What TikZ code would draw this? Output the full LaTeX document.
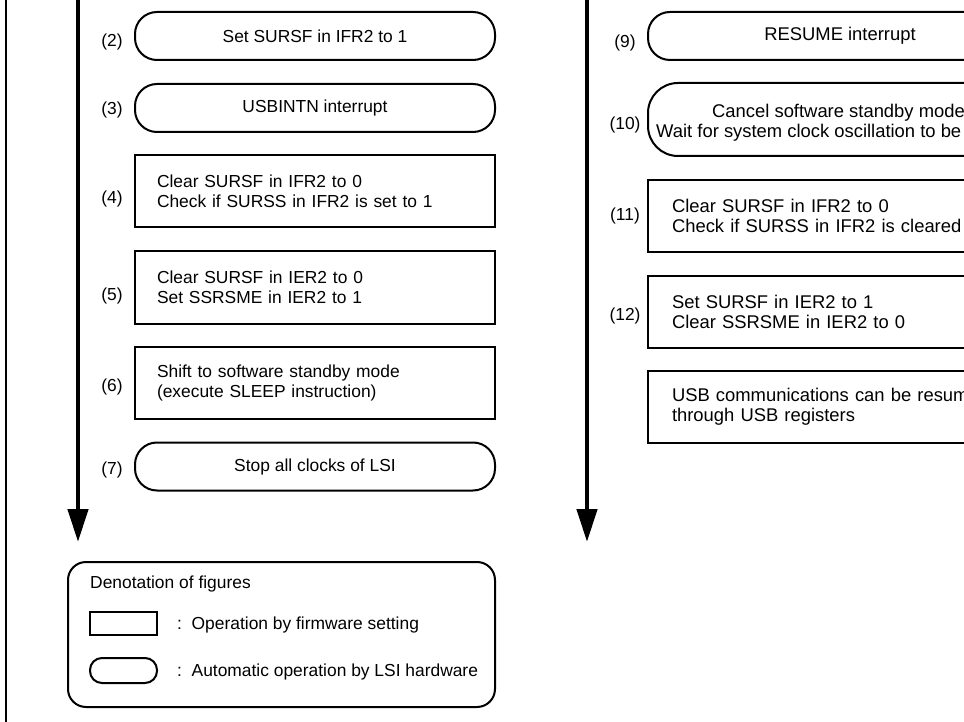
\documentclass[tikz,border=0pt]{standalone}
\usepackage{fontspec}
\setmainfont{Liberation Sans}
\usetikzlibrary{arrows.meta}
\begin{document}
\begin{tikzpicture}[x=1pt,y=-1pt,
  every node/.style={font=\fontsize{17.4}{20}\selectfont, text=black},
  rfont/.style={font=\fontsize{18.4}{20}\selectfont},
  fw/.style={draw, line width=2pt, minimum height=72pt, align=left, inner ysep=0pt},
  fwL/.style={fw, text width=316pt, inner xsep=22pt},
  fwR/.style={fw, rfont, text width=336pt, inner xsep=24pt},
  hw/.style={draw, line width=2pt, rounded corners=22pt, minimum height=48pt, inner sep=0pt},
  hwL/.style={hw, minimum width=360pt},
  hwR/.style={hw, rfont, minimum width=384pt},
  lbl/.style={inner sep=0pt},
  txt/.style={inner sep=0pt, anchor=base west},
  flow/.style={line width=4.5pt, -{Triangle[width=20pt,length=33pt]}},
  frame/.style={line width=2.3pt},
]
\useasboundingbox (0,0) rectangle (964,722);
\clip (0,0) rectangle (964,722);

% left frame line
\coordinate (fT) at (6.3,-5);
\coordinate (fB) at (6.3,727);
\draw[frame] (fT) -- (fB);

% flow arrows
\coordinate (LT) at (78,-5);
\coordinate (LB) at (78,542);
\coordinate (RT) at (587,-5);
\coordinate (RB) at (587,542);
\draw[flow] (LT) -- (LB);
\draw[flow] (RT) -- (RB);

% left column
\node[hwL] (b2) at (315,36) {Set SURSF in IFR2 to 1};
\node[hwL] (b3) at (315,108) {USBINTN interrupt};
\node[fwL] (b4) at (315,191.5) {Clear SURSF in IFR2 to 0\\Check if SURSS in IFR2 is set to 1};
\node[fwL] (b5) at (315,287.5) {Clear SURSF in IER2 to 0\\Set SSRSME in IER2 to 1};
\node[fwL] (b6) at (315,382.5) {Shift to software standby mode\\(execute SLEEP instruction)};
\node[hwL] (b7) at (315,466.5) {Stop all clocks of LSI};

\node[lbl] (l2) at (112,42) {(2)};
\node[lbl] (l3) at (112,110) {(3)};
\node[lbl] (l4) at (112,199) {(4)};
\node[lbl] (l5) at (112,296) {(5)};
\node[lbl] (l6) at (112,387) {(6)};
\node[lbl] (l7) at (112,470) {(7)};

% right column
\node[hwR] (b9) at (840,36) {RESUME interrupt};
\node[hw, minimum width=384pt, minimum height=73pt, rounded corners=30pt] (b10) at (840,119.5) {};
\node[txt, rfont] (t10a) at (712,118) {Cancel software standby mode};
\node[txt, rfont] (t10b) at (656,138) {Wait for system clock oscillation to be};
\node[fwR] (b11) at (840,216) {Clear SURSF in IFR2 to 0\\Check if SURSS in IFR2 is cleared};
\node[fwR] (b12) at (840,311.5) {Set SURSF in IER2 to 1\\Clear SSRSME in IER2 to 0};
\node[fwR] (b13) at (840,407) {USB communications can be resum\\through USB registers};

\node[lbl] (l9) at (625,43) {(9)};
\node[lbl] (l10) at (625,125) {(10)};
\node[lbl] (l11) at (625,216) {(11)};
\node[lbl] (l12) at (625,316) {(12)};

% legend
\node[draw, line width=2pt, rounded corners=18pt, minimum width=427pt, minimum height=145pt] (leg) at (281.5,634.5) {};
\node[txt] (legT) at (90,588.5) {Denotation of figures};
\node[draw, line width=2pt, minimum width=67pt, minimum height=23pt, inner sep=0pt] (legR) at (123.5,623.5) {};
\node[draw, line width=2pt, minimum width=67pt, minimum height=25pt, rounded corners=12pt, inner sep=0pt] (legH) at (123.5,670.5) {};
\node[txt] (legRt) at (177,629.5) {:~~Operation by firmware setting};
\node[txt] (legHt) at (177,676.5) {:~~Automatic operation by LSI hardware};
\end{tikzpicture}
\end{document}
